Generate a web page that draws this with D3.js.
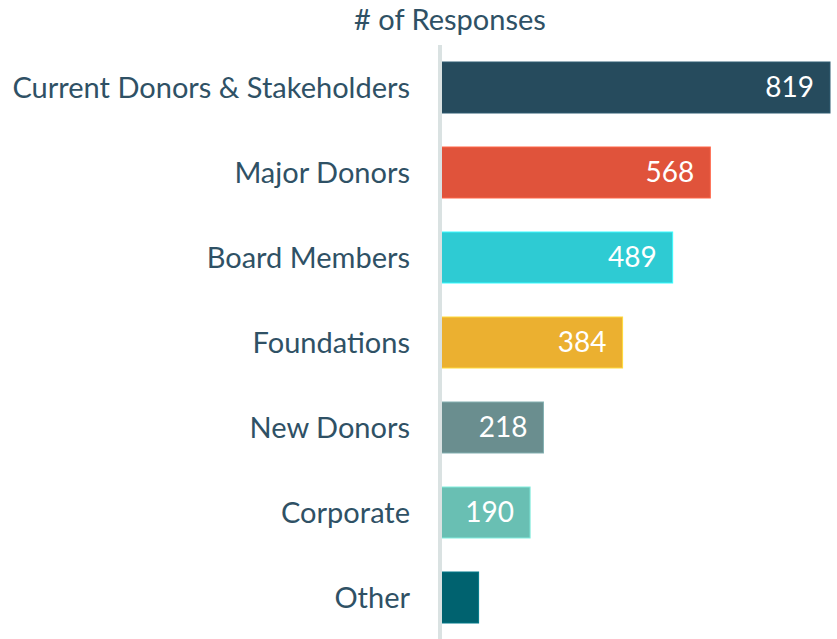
<!DOCTYPE html>
<html>
<head>
<meta charset="utf-8">
<script src="https://cdn.jsdelivr.net/npm/d3@7"></script>
<style>
  body { margin: 0; background: #fff; }
  text { font-family: Lato, "Open Sans", sans-serif; }
</style>
</head>
<body>
<svg width="837" height="639"></svg>
<script>
const categories = ["Current Donors & Stakeholders", "Major Donors", "Board Members",
  "Foundations", "New Donors", "Corporate", "Other"];
const responses = [819, 568, 489, 384, 218, 190, 82];
const colours = ["#264b5d", "#e0533b", "#2ecbd3", "#ebb030", "#6a8e8f", "#69bfb3", "#00626f"];
const title = "# of Responses";

const svg = d3.select("svg");
const textColour = "#2f5165";

const x = d3.scaleLinear().domain([0, 819]).range([439.5, 830]);
const y = d3.scaleBand().domain(categories).range([28, 657]).padding(0.4);

svg.append("text")
  .attr("x", 450)
  .attr("y", 30)
  .attr("text-anchor", "middle")
  .attr("font-size", 29)
  .attr("fill", textColour)
  .text(title);

const rows = svg.selectAll("g.row")
  .data(categories.map((c, i) => ({ c, v: responses[i], col: colours[i] })))
  .join("g")
  .attr("class", "row");

rows.append("rect")
  .attr("x", x(0))
  .attr("y", (d) => y(d.c))
  .attr("width", (d) => x(d.v) - x(0))
  .attr("height", y.bandwidth())
  .attr("fill", (d) => d.col)
  .attr("stroke", (d) => d3.color(d.col).brighter(0.6))
  .attr("stroke-width", 1);

rows.append("text")
  .attr("x", 410)
  .attr("y", (d) => y(d.c) + y.bandwidth() / 2)
  .attr("dy", "0.35em")
  .attr("text-anchor", "end")
  .attr("font-size", 29)
  .attr("fill", textColour)
  .text((d) => d.c);

// "Other" is too short to carry its label
rows.filter((d) => d.v >= 100)
  .append("text")
  .attr("x", (d) => x(d.v) - 16)
  .attr("y", (d) => y(d.c) + y.bandwidth() / 2)
  .attr("dy", "0.35em")
  .attr("text-anchor", "end")
  .attr("font-size", 28)
  .attr("fill", "#fff")
  .text((d) => d.v);

// axis line
svg.append("line")
  .attr("x1", 440).attr("x2", 440)
  .attr("y1", 45).attr("y2", 639)
  .attr("stroke", "#dae2e2")
  .attr("stroke-width", 4);
</script>
</body>
</html>
